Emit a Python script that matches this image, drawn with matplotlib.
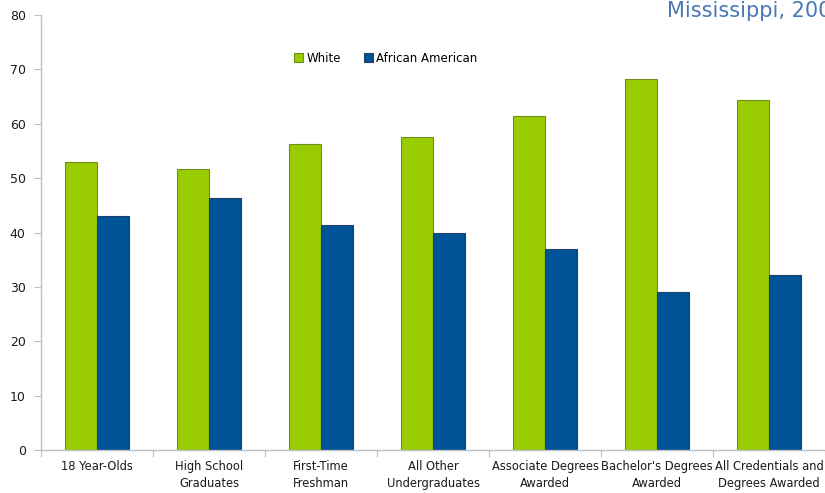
import matplotlib
matplotlib.use("Agg")
import matplotlib.pyplot as plt
import numpy as np

categories = ["18 Year-Olds", "High School\nGraduates", "First-Time\nFreshman",
              "All Other\nUndergraduates", "Associate Degrees\nAwarded",
              "Bachelor's Degrees\nAwarded", "All Credentials and\nDegrees Awarded"]
white = [52.9, 51.6, 56.2, 57.5, 61.4, 68.2, 64.4]
african_american = [43.1, 46.4, 41.4, 39.9, 36.9, 29.1, 32.1]
yticks = [0, 10, 20, 30, 40, 50, 60, 70, 80]

green = "#99cc00"
blue = "#005496"

fig = plt.figure(figsize=(8.25, 4.93), dpi=100)
ax = fig.add_axes([41 / 825, 43 / 493, 784 / 825, 435 / 493])

x = np.arange(len(categories))
w = 0.285
ax.bar(x - w / 2, white, width=w, color=green, edgecolor="#6f8f1a", linewidth=0.8, label="White")
ax.bar(x + w / 2, african_american, width=w, color=blue, edgecolor="#1f3f66", linewidth=0.8,
       label="African American")

ax.set_xlim(-0.5, len(categories) - 0.5)
ax.set_ylim(0, 80)
ax.set_yticks(yticks)
ax.set_xticks(np.arange(len(categories) + 1) - 0.5, minor=False)
ax.set_xticklabels([])
ax.set_xticks(x, minor=True)
ax.set_xticklabels(categories, minor=True, fontsize=8.3, color="#1a1a1a", linespacing=1.4)
ax.tick_params(axis="x", which="minor", length=0, pad=7)
ax.tick_params(axis="x", which="major", length=5, color="#bfbfbf", direction="out")
ax.tick_params(axis="y", length=5, color="#bfbfbf", labelsize=9, labelcolor="#1a1a1a", pad=6)

for s in ["top", "right"]:
    ax.spines[s].set_visible(False)
for s in ["left", "bottom"]:
    ax.spines[s].set_color("#bfbfbf")
    ax.spines[s].set_linewidth(1.0)

leg = ax.legend(loc="upper center", bbox_to_anchor=(0.44, 0.94), ncol=2, frameon=False,
                fontsize=8.5, handlelength=0.7, handleheight=0.7, handletextpad=0.3,
                columnspacing=2.0)

fig.text(667 / 825, 1 - 17 / 493, "Mississippi, 2009", fontsize=15, color="#4a78b5",
         ha="left", va="baseline")

fig.savefig("out.png", dpi=100)
